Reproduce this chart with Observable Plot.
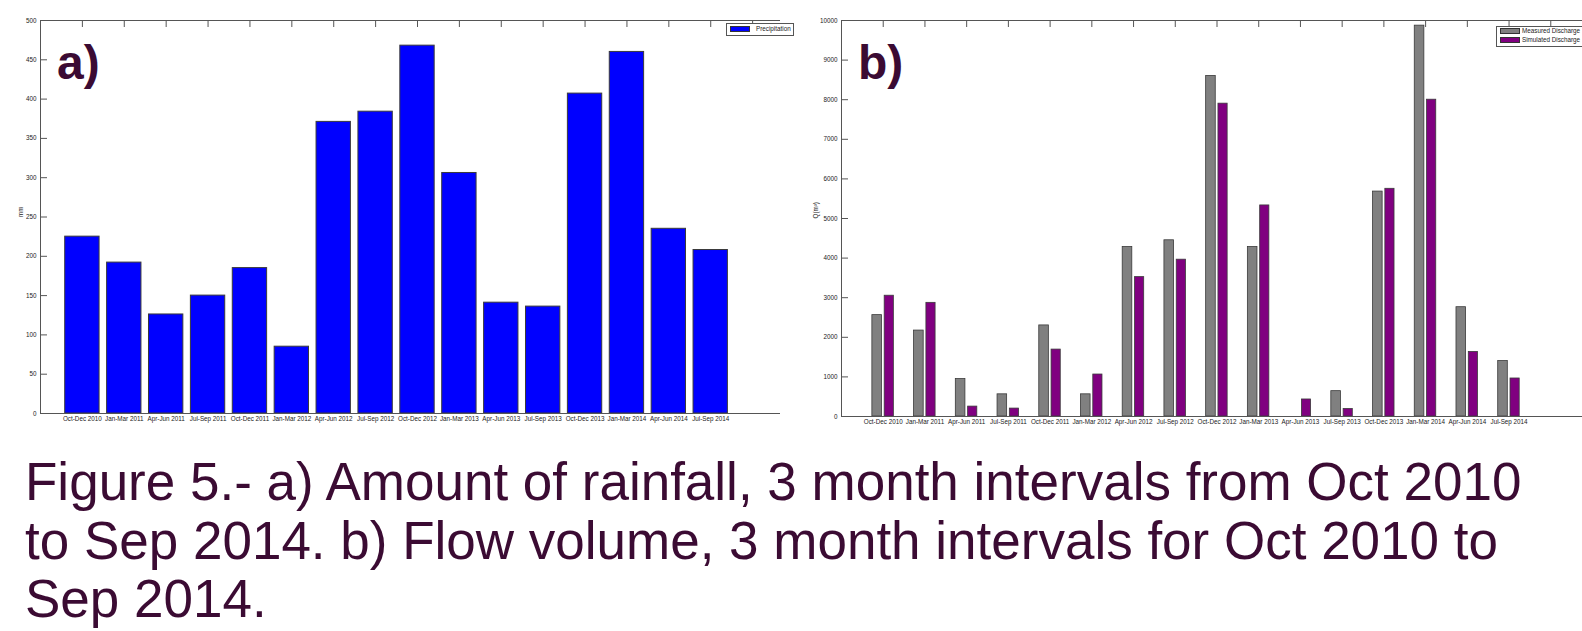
<!DOCTYPE html>
<html><head><meta charset="utf-8">
<script src="https://cdn.jsdelivr.net/npm/d3@7"></script>
<script src="https://cdn.jsdelivr.net/npm/@observablehq/plot@0.6"></script>
<style>
body{margin:0;background:#fff;}
#wrap{position:relative;width:1582px;height:631px;overflow:hidden;background:#fff;font-family:"Liberation Sans",Arial,sans-serif;}
.abs{position:absolute;}
.tag{position:absolute;font-weight:bold;font-size:48px;line-height:48px;color:#3b0b33;}
.legbox{position:absolute;border:1px solid #555;box-sizing:border-box;background:#fff;}
.sw{position:absolute;width:20px;height:6px;border:1px solid #333;box-sizing:border-box;}
.lt{position:absolute;font-size:6.3px;line-height:8px;color:#222;white-space:nowrap;}
#caption{position:absolute;left:25px;top:453px;font-size:53px;line-height:58.5px;color:#3b0b33;white-space:nowrap;}
</style></head><body><div id="wrap"></div>
<script>
// ---- data ----
const periods = ["Oct-Dec 2010","Jan-Mar 2011","Apr-Jun 2011","Jul-Sep 2011","Oct-Dec 2011","Jan-Mar 2012","Apr-Jun 2012","Jul-Sep 2012","Oct-Dec 2012","Jan-Mar 2013","Apr-Jun 2013","Jul-Sep 2013","Oct-Dec 2013","Jan-Mar 2014","Apr-Jun 2014","Jul-Sep 2014"];
const precipitation = [225,192,126,150,185,85,371,384,468,306,141,136,407,460,235,208];
const measured = [2560,2170,945,560,2300,560,4280,4450,8600,4280,0,640,5680,9870,2760,1400];
const simulated = [3050,2870,250,200,1690,1060,3520,3960,7900,5330,430,190,5750,8000,1630,960];
const precipTicks = [0,50,100,150,200,250,300,350,400,450,500];
const flowTicks = [0,1000,2000,3000,4000,5000,6000,7000,8000,9000,10000];
const captionLines = ["Figure 5.- a) Amount of rainfall, 3 month intervals from Oct 2010","to Sep 2014. b) Flow volume, 3 month intervals for Oct 2010 to","Sep 2014."];

const wrap = document.getElementById("wrap");
const XMAX = 18;
const positions = d3.range(1, periods.length + 1);
const topTicks = d3.range(1, XMAX);

function panel({left, width, height, mt, mb, ml, mr, yMax, yTicks, bars, yLabel, yLabelDx}) {
  const plotW = width - ml - mr, plotH = height - mt - mb;
  const tx = 7 * XMAX / plotW, ty = 7 * yMax / plotH;
  const chart = Plot.plot({
    width, height, marginTop: mt, marginBottom: mb, marginLeft: ml, marginRight: mr,
    x: {type: "linear", domain: [0, XMAX]},
    y: {type: "linear", domain: [0, yMax]},
    style: {fontFamily: "'Liberation Sans', Arial, sans-serif", fontSize: "6.3px", color: "#222", background: "white", overflow: "visible"},
    marks: [
      ...bars,
      Plot.ruleY(yTicks, {x1: 0, x2: tx, stroke: "#555"}),
      Plot.ruleY(yTicks, {x1: XMAX - tx, x2: XMAX, stroke: "#555"}),
      Plot.ruleX(topTicks, {y1: yMax, y2: yMax - ty, stroke: "#555"}),
      Plot.frame({stroke: "#555"}),
      Plot.axisY(yTicks, {anchor: "left", tickSize: 0, tickPadding: 4, label: null, tickFormat: d => String(d)}),
      Plot.axisX(positions, {anchor: "bottom", tickSize: 0, tickPadding: 3, label: null, tickFormat: d => periods[d - 1]}),
      Plot.text([yLabel], {frameAnchor: "left", rotate: -90, dx: yLabelDx, fill: "#222"})
    ]
  });
  chart.style.position = "absolute";
  chart.style.left = left + "px";
  chart.style.top = "0px";
  wrap.appendChild(chart);
}

// a) precipitation
const precipData = periods.map((p, i) => ({pos: i + 1, value: precipitation[i]}));
panel({
  left: 0, width: 800, height: 431, mt: 20, mb: 18, ml: 40, mr: 6,
  yMax: 500, yTicks: precipTicks, yLabel: "mm", yLabelDx: -20,
  bars: [Plot.rect(precipData, {x1: d => d.pos - 0.41, x2: d => d.pos + 0.41, y1: 0, y2: "value", fill: "#0000ff", stroke: "#3a3a3a", strokeWidth: 1})]
});

// b) discharge
const flowData = periods.map((p, i) => ({pos: i + 1, measured: measured[i], simulated: simulated[i]}));
panel({
  left: 780, width: 820, height: 434, mt: 20, mb: 18, ml: 61, mr: 8,
  yMax: 10000, yTicks: flowTicks, yLabel: "Q(m³)", yLabelDx: -26,
  bars: [
    Plot.rect(flowData, {x1: d => d.pos - 0.26, x2: d => d.pos - 0.03, y1: 0, y2: "measured", fill: "#808080", stroke: "#3a3a3a", strokeWidth: 0.8}),
    Plot.rect(flowData, {x1: d => d.pos + 0.035, x2: d => d.pos + 0.255, y1: 0, y2: "simulated", fill: "#800080", stroke: "#3a3a3a", strokeWidth: 0.8})
  ]
});

// panel tags
function addDiv(cls, text, left, top, extra = {}) {
  const d = document.createElement("div");
  d.className = cls;
  if (text != null) d.textContent = text;
  d.style.left = left + "px"; d.style.top = top + "px";
  Object.assign(d.style, extra);
  wrap.appendChild(d);
  return d;
}
addDiv("tag", "a)", 57, 39);
addDiv("tag", "b)", 858, 39);

// legends
addDiv("legbox", null, 726, 23, {width: "68px", height: "13px"});
addDiv("sw", null, 730, 26, {background: "#0000ff"});
addDiv("lt", "Precipitation", 756, 25);

addDiv("legbox", null, 1496, 26, {width: "110px", height: "21px"});
addDiv("sw", null, 1500, 28, {background: "#808080"});
addDiv("sw", null, 1500, 37, {background: "#800080"});
addDiv("lt", "Measured Discharge", 1522, 27);
addDiv("lt", "Simulated Discharge", 1522, 36);

// caption
const cap = document.createElement("div");
cap.id = "caption";
cap.innerHTML = captionLines.join("<br>");
wrap.appendChild(cap);
</script>
</body></html>
